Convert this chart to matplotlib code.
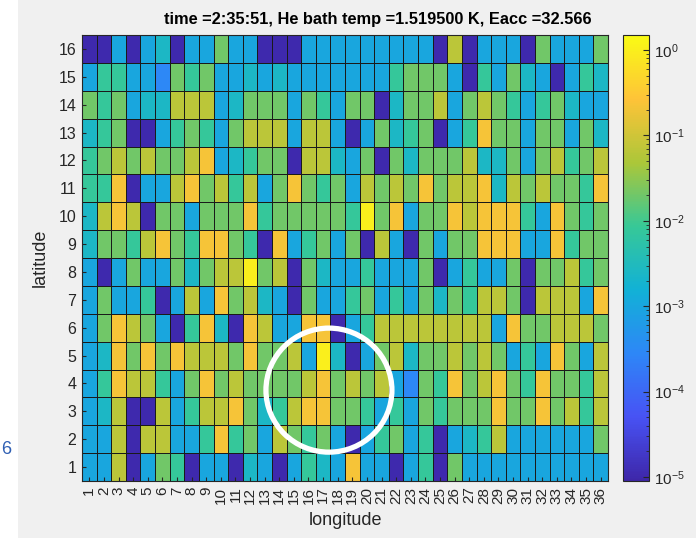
import numpy as np
import matplotlib
matplotlib.use("Agg")
import matplotlib.pyplot as plt
from matplotlib.colors import LinearSegmentedColormap, LogNorm
from matplotlib.patches import Ellipse, Rectangle

plt.rcParams['font.family'] = ['Liberation Sans', 'DejaVu Sans']

# cell classes, latitude 16 (top) down to latitude 1
# D ~1e-5, L ~3e-4, B ~1e-3, C ~2.5e-3, T ~8e-3, G ~2e-2, Y ~6.5e-2, O ~0.22, F ~1
level = {'D': 1e-5, 'L': 3e-4, 'B': 1e-3, 'C': 2.5e-3, 'T': 8e-3,
         'G': 2e-2, 'Y': 6.5e-2, 'O': 0.22, 'F': 1.0}

rows_top_down = [
    "DDBDBCDBBGBB DDDBBBBBBBBB DYDBBBDGBBBG",
    "BTTBBLGTGBBC BCBBBBBBBTGG GBDTBGCBDBTC",
    "GTGBCCYYYBCG GGBGTBGGDCGG YBGYGTBTGCBB",
    "CTGDDBTGTBGY YYBYYBDBGCTG DBTOGGBGGBGC",
    "TGYGYGGYOBCT GGDYYCBGDGCG GGYCCGBGYTGY",
    "TTODBBYOGYTY BGOGTGBYGYGO GYYOCYGYGGTO",
    "CYOYDGGBGGGO TGGGGGTFGOBG GOYOOOTBOGTG",
    "CGGTYOGTOOGT DOBTGBGDYBDG BGGOOOBBOTGG",
    "BDBGBBGCGYYF GYDGCBBTBBBG DBTBBGDGGYTG",
    "BGBBTDBYBOGY CBDGBBTGBTBG CGTYYGDYYYBO",
    "BGOYGBDTOCDO YBBOODBTYYYY YYYYBOGGYYYG",
    "BCOGOGOYYYGO GGYBFCDBGYCG GYGYGBTBOGBY",
    "BTOYYTBGOGYG GGGYOGYGYBLG TOGYOGTOGGTY",
    "BCYDDYBTYYOG CTYOOGGTBTBG TGGGOGGOGYTY",
    "BBYDYYBBTOTG BYGTGBDBTGBT DBCTYBBBBBBG",
    "BBYDBGTDBBDC BDBTCBOBBDBT DGBBBBBBBBBB",
]

longitude = list(range(1, 37))
latitude = list(range(1, 17))
title = 'time =2:35:51, He bath temp =1.519500 K, Eacc =32.566'

grid = np.array([[level[c] for c in r.replace(' ', '')] for r in rows_top_down[::-1]])

# parula-like colormap
parula = LinearSegmentedColormap.from_list('parula', [
    (0.2422, 0.1504, 0.6603), (0.2810, 0.3228, 0.9579), (0.1786, 0.5289, 0.9682),
    (0.0689, 0.6948, 0.8394), (0.2161, 0.7843, 0.5923), (0.6720, 0.7793, 0.2227),
    (0.9970, 0.7659, 0.2199), (0.9769, 0.9839, 0.0805)])

fig = plt.figure(figsize=(6.96, 5.38), dpi=100, facecolor='#f0f0f0')
fig.add_artist(Rectangle((0, 0), 18 / 696, 1, transform=fig.transFigure,
                         facecolor='white', edgecolor='none', zorder=-5))
fig.text(1 / 696, 1 - 450 / 538, '6', color='#2f5fb3', fontsize=13, ha='left', va='center')

ax = fig.add_axes([82 / 696, 57 / 538, 526 / 696, 446 / 538])
xe = np.arange(0.5, len(longitude) + 1)
ye = np.arange(0.5, len(latitude) + 1)
mesh = ax.pcolormesh(xe, ye, grid, cmap=parula, norm=LogNorm(vmin=9e-6, vmax=1.5),
                     edgecolors='#1a1a1a', linewidth=0.6)
ax.set_xlim(0.5, 36.5)
ax.set_ylim(0.5, 16.5)
ax.set_xticks(longitude)
ax.set_xticklabels([str(v) for v in longitude], rotation=90, fontsize=11, color='#262626')
ax.set_yticks(latitude)
ax.set_yticklabels([str(v) for v in latitude], fontsize=11.5, color='#262626')
ax.tick_params(direction='in', length=3, color='#262626', pad=4)
for s in ax.spines.values():
    s.set_color('#262626')
    s.set_linewidth(0.8)
ax.set_xlabel('longitude', fontsize=13, color='#262626', labelpad=6)
ax.set_ylabel('latitude', fontsize=13, color='#262626', labelpad=7)
ax.set_title(title, fontsize=11.8, fontweight='bold', pad=8, x=0.563)

ax.add_patch(Ellipse((17.4, 3.76), width=8.62, height=4.45, fill=False,
                     edgecolor='white', linewidth=3.8, zorder=5))

cax = fig.add_axes([623 / 696, 57 / 538, 26 / 696, 446 / 538])
cb = fig.colorbar(mesh, cax=cax)
cb.set_ticks([1e-5, 1e-4, 1e-3, 1e-2, 1e-1, 1e0])
cb.ax.tick_params(which='both', direction='in', labelsize=11, colors='#262626')
cb.ax.tick_params(which='major', length=4)
cb.ax.tick_params(which='minor', length=2)
cb.outline.set_edgecolor('#262626')
cb.outline.set_linewidth(0.8)

fig.savefig('out.png', dpi=100, facecolor=fig.get_facecolor())
